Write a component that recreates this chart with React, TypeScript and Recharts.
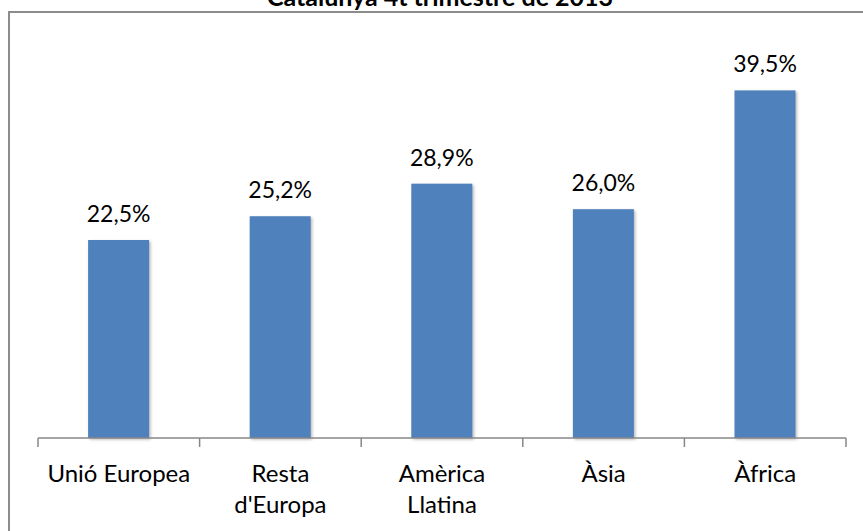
import React from "react";
import { BarChart, Bar, XAxis, YAxis, LabelList } from "recharts";

const title = "Catalunya 4t trimestre de 2013";
const categories = ["Unió Europea", "Resta\nd'Europa", "Amèrica\nLlatina", "Àsia", "Àfrica"];
const values = [22.5, 25.2, 28.9, 26.0, 39.5];

const data = categories.map((c, i) => ({ name: c, value: values[i] }));

const FONT = "Lato, 'Open Sans', sans-serif";
const AXIS_COLOR = "#878787";

const fmt = (v: any) => `${Number(v).toFixed(1).replace(".", ",")}%`;

const BarShape = (props: any) => {
  const { x, y, width, height, index } = props;
  const id = `sh${index}`;
  return (
    <g>
      <defs>
        <filter id={id} x="-30%" y="-30%" width="160%" height="160%">
          <feGaussianBlur stdDeviation="1.6" />
        </filter>
      </defs>
      <rect x={x + 1.5} y={y + 1.5} width={width} height={height} fill="#000" opacity={0.28} filter={`url(#${id})`} />
      <rect x={x} y={y} width={width} height={height} fill="#4F81BD" />
    </g>
  );
};

const Tick = (props: any) => {
  const { x, y, payload, width, visibleTicksCount, index } = props;
  const band = width / (visibleTicksCount || categories.length);
  const lines = String(payload.value).split("\n");
  const axisY = y - 8;
  return (
    <g>
      <line x1={x - band / 2} x2={x - band / 2} y1={axisY} y2={axisY + 9} stroke={AXIS_COLOR} strokeWidth={1.5} />
      {index === categories.length - 1 && (
        <line x1={x + band / 2} x2={x + band / 2} y1={axisY} y2={axisY + 9} stroke={AXIS_COLOR} strokeWidth={1.5} />
      )}
      <text x={x} y={axisY + 44} textAnchor="middle" fontFamily={FONT} fontSize={24} fill="#000">
        {lines.map((l, i) => (
          <tspan key={i} x={x} dy={i === 0 ? 0 : 31}>
            {l}
          </tspan>
        ))}
      </text>
    </g>
  );
};

export default function App() {
  return (
    <div style={{ position: "absolute", left: 0, top: 0, width: 863, height: 531, overflow: "hidden", background: "#fff" }}>
      <div
        style={{
          position: "absolute",
          left: 8,
          top: 11,
          width: 900,
          height: 600,
          borderTop: `2px solid #8c8c8c`,
          borderLeft: `2px solid #8c8c8c`,
        }}
      />
      <svg width={863} height={30} style={{ position: "absolute", left: 0, top: 0 }}>
        <text x={440} y={6} textAnchor="middle" fontFamily={FONT} fontWeight="bold" fontSize={25} fill="#000">
          {title}
        </text>
      </svg>
      <div style={{ position: "absolute", left: 0, top: 0 }}>
        <BarChart width={863} height={531} data={data} margin={{ top: 42, right: 17, left: 38, bottom: 0 }} barCategoryGap="31%">
          <XAxis
            dataKey="name"
            axisLine={{ stroke: AXIS_COLOR, strokeWidth: 1.5 }}
            tickLine={false}
            tick={<Tick />}
            interval={0}
            height={93}
          />
          <YAxis hide domain={[0, 45]} width={0} />
          <Bar dataKey="value" isAnimationActive={false} shape={<BarShape />}>
            <LabelList dataKey="value" position="top" offset={18} formatter={fmt} style={{ fontFamily: FONT, fontSize: 23, fill: "#000" }} />
          </Bar>
        </BarChart>
      </div>
    </div>
  );
}
